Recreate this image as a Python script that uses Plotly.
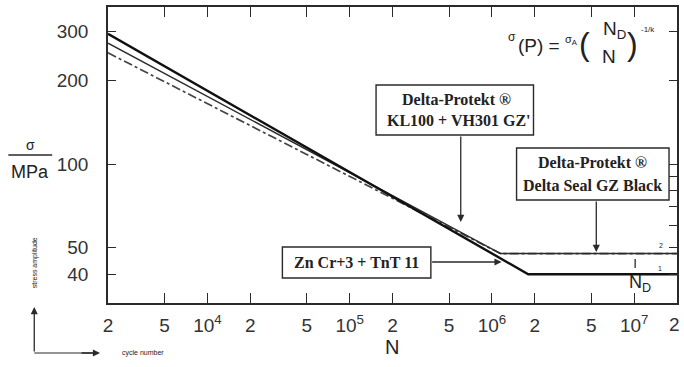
import plotly.graph_objects as go
import math

# ---------------- data ----------------
n_thick = [2e3, 1.8e6, 2e7]
s_thick = [295, 40, 40]
n_thin = [2e3, 1.15e6, 2e7]
s_thin = [273, 47.5, 47.5]
n_dashdot = [2e3, 1.15e6, 2e7]
s_dashdot = [252, 47.5, 47.5]

x_tickvals = [2e3, 5e3, 1e4, 2e4, 5e4, 1e5, 2e5, 5e5, 1e6, 2e6, 5e6, 1e7, 2e7]
x_ticktext = ["2", "5", "10<sup>4</sup>", "2", "5", "10<sup>5</sup>", "2", "5",
              "10<sup>6</sup>", "2", "5", "10<sup>7</sup>", "2"]
y_tickvals = [40, 50, 100, 200, 300]
y_ticktext = ["40", "50", "100", "200", "300"]
y_right_ticks = [40, 50, 60, 70, 80, 90, 100, 200, 300]

# ---------------- layout geometry (pixels) ----------------
W, H = 684, 367
L, R, T, B = 108, 679, 7, 303


def xp(px):
    return (px - L) / (R - L)


def yp(py):
    return (B - py) / (B - T)


INK = "#2a2a2a"
fig = go.Figure()

fig.add_trace(go.Scatter(x=n_dashdot, y=s_dashdot, mode="lines",
                         line=dict(color="#444", width=1.7, dash="dashdot"),
                         showlegend=False))
fig.add_trace(go.Scatter(x=n_thin, y=s_thin, mode="lines",
                         line=dict(color=INK, width=1.5), showlegend=False))
fig.add_trace(go.Scatter(x=n_thick, y=s_thick, mode="lines",
                         line=dict(color="#111", width=2.4), showlegend=False))
# invisible trace to activate the right axis
fig.add_trace(go.Scatter(x=[n_thick[0]], y=[s_thick[0]], yaxis="y2", mode="lines",
                         line=dict(width=0), opacity=0, showlegend=False,
                         hoverinfo="skip"))

ylo = 2 - (B - 164) / 277.0
yhi = ylo + (B - T) / 277.0

tickfont = dict(family="Liberation Sans, Arial, sans-serif", size=19, color="#333")

# the last tick label sits on the right edge; it is drawn as an annotation
axis_ticktext = x_ticktext[:-1] + [""]

fig.update_layout(
    width=W, height=H,
    margin=dict(l=L, r=W - R, t=T, b=H - B),
    paper_bgcolor="white", plot_bgcolor="white",
    showlegend=False,
    xaxis=dict(type="log", range=[math.log10(2e3), math.log10(2e7)],
               tickvals=x_tickvals, ticktext=axis_ticktext,
               ticks="inside", ticklen=10, tickwidth=1.3, tickcolor=INK,
               showline=True, linecolor=INK, linewidth=1.6, mirror="ticks",
               showgrid=False, zeroline=False, tickfont=tickfont,
               ticklabelstandoff=4),
    yaxis=dict(type="log", range=[ylo, yhi],
               tickvals=y_tickvals, ticktext=y_ticktext,
               ticks="inside", ticklen=8, tickwidth=1.3, tickcolor=INK,
               showline=True, linecolor=INK, linewidth=1.6, mirror=True,
               showgrid=False, zeroline=False, tickfont=tickfont,
               ticklabelstandoff=14),
    yaxis2=dict(type="log", range=[ylo, yhi], overlaying="y", side="right",
                tickvals=y_right_ticks, ticks="inside", ticklen=8, tickwidth=1.3,
                tickcolor=INK, showticklabels=False, showline=False,
                showgrid=False, zeroline=False),
)

shapes = []
annos = []
serif = dict(family="Liberation Serif, DejaVu Serif, serif", size=16, color="#222")


def box(x0, y0, x1, y1):
    shapes.append(dict(type="rect", xref="paper", yref="paper",
                       x0=xp(x0), x1=xp(x1), y0=yp(y1), y1=yp(y0),
                       line=dict(color=INK, width=1.4), fillcolor="white", layer="above"))


def text(px, py, s, font, **kw):
    annos.append(dict(xref="paper", yref="paper", x=xp(px), y=yp(py), text=s,
                      showarrow=False, font=font, xanchor="center", yanchor="middle", **kw))


def arrow(hx, hy, tx, ty):
    annos.append(dict(xref="paper", yref="paper", x=xp(hx), y=yp(hy), text="",
                      showarrow=True, ax=tx - hx, ay=ty - hy, arrowhead=2,
                      arrowsize=1.1, arrowwidth=1.3, arrowcolor=INK, standoff=0))


# last x tick label at the right edge
annos.append(dict(xref="x", yref="paper", x=math.log10(x_tickvals[-1]), y=yp(324),
                  text=x_ticktext[-1], showarrow=False, font=tickfont,
                  xanchor="right", yanchor="middle", xshift=5))

# annotation boxes
box(377, 85, 535, 135)
text(458, 99, "<b>Delta-Protekt ®</b>", serif)
text(460, 121, "<b>KL100 + VH301 GZ'</b>", serif)
arrow(462, 222, 462, 135)

box(518, 148, 671, 200)
text(594, 162, "<b>Delta-Protekt ®</b>", serif)
text(594, 185, "<b>Delta Seal GZ Black</b>", serif)
arrow(598, 252, 598, 200)

box(283, 247, 432, 278)
text(357, 262, "<b>Zn Cr+3 + TnT 11</b>", serif)
arrow(503, 262, 432, 262)

# formula
sans = "Liberation Sans, Arial, sans-serif"
text(513, 37, "σ", dict(family=sans, size=12, color="#222"))
text(541, 45, "(P) =", dict(family=sans, size=19, color="#222"))
text(573, 40, "σ<sub>A</sub>", dict(family=sans, size=11, color="#222"))
text(586, 44, "(", dict(family=sans, size=32, color="#222"))
text(616, 30, "N<sub>D</sub>", dict(family=sans, size=19, color="#222"))
text(611, 56, "N", dict(family=sans, size=19, color="#222"))
text(634, 44, ")", dict(family=sans, size=32, color="#222"))
text(650, 29, "-1/k", dict(family=sans, size=8, color="#222"))

# N_D marker and small labels at right
shapes.append(dict(type="line", xref="paper", yref="paper", x0=xp(637), x1=xp(637),
                   y0=yp(268), y1=yp(259), line=dict(color=INK, width=1.3)))
text(642, 283, "N<sub>D</sub>", dict(family=sans, size=18, color="#222"))
text(663, 245, "2", dict(family=sans, size=7, color="#222"))
text(662, 268, "1", dict(family=sans, size=7, color="#222"))

# y title sigma / MPa
text(30, 145, "σ", dict(family=sans, size=14, color="#222"))
shapes.append(dict(type="line", xref="paper", yref="paper", x0=xp(8), x1=xp(52),
                   y0=yp(155), y1=yp(155), line=dict(color=INK, width=1.3)))
text(30, 172, "MPa", dict(family=sans, size=18, color="#222"))

# x title
text(393, 347, "N", dict(family=sans, size=20, color="#222"))

# little legend arrows bottom-left
text(35, 263, "stress amplitude", dict(family=sans, size=7, color="#222"), textangle=-90)
shapes.append(dict(type="line", xref="paper", yref="paper", x0=xp(34), x1=xp(95),
                   y0=yp(353), y1=yp(353), line=dict(color=INK, width=1.2)))
arrow(34, 307, 34, 353)
arrow(100, 353, 80, 353)
text(143, 353, "cycle number", dict(family=sans, size=7, color="#222"))

fig.update_layout(shapes=shapes, annotations=annos)
fig.write_html("out.html", config={"displayModeBar": False},
               post_script="document.body.style.margin='0';document.body.style.overflow='hidden';")
